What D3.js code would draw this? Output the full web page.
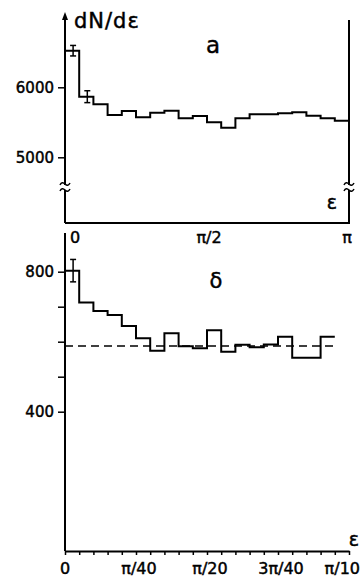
<!DOCTYPE html>
<html>
<head>
<meta charset="utf-8">
<script src="https://cdn.jsdelivr.net/npm/d3@7"></script>
<style>
  body { margin: 0; background: #fff; }
  text { font-family: "DejaVu Sans", sans-serif; fill: #000; stroke: #000; stroke-width: 0.45px; }
</style>
</head>
<body>
<div id="root"></div>
<script>
// panel a: 20 bins of width pi/20 over [0, pi]
var topValues = [6523, 5866, 5757, 5604, 5661, 5571, 5637, 5666, 5557, 5590,
                 5500, 5423, 5557, 5614, 5614, 5629, 5643, 5594, 5557, 5523];
var topErrors = [75, 85];            // error bars on the first two bins
var topYTicks = [5000, 6000];
var topXTicks = [0, Math.PI / 2, Math.PI];
var topXLabels = ['0', 'π/2', 'π'];

// panel b: 19 bins of width pi/200
var bottomValues = [803, 712, 688, 676, 645, 610, 574, 624, 587, 581,
                    633, 571, 591, 584, 592, 614, 554, 554, 614];
var bottomErrors = [32];
var bottomLevel = 588;               // dashed reference level
var bottomYTicks = [400, 500, 600, 700, 800];
var bottomYLabels = ['400', '', '', '', '800'];
var bottomXLabels = ['0', 'π/40', 'π/20', '3π/40', 'π/10'];

var W = 361, H = 581;
var svg = d3.select('#root')
  .append('svg')
    .attr('width', W)
    .attr('height', H);

svg.append('rect').attr('width', W).attr('height', H).attr('fill', '#fff');

var left = 65, right = 349;

// ---------- panel a ----------
var xTop = d3.scaleLinear().domain([0, Math.PI]).range([left, right]);
var yTop = d3.scaleLinear().domain([5000, 6000]).range([157.3, 87.3]);
var topBase = 223, topBreak = 187;

var gTop = svg.append('g');

// frame: left axis with arrow, bottom line, right line
gTop.append('line')
  .attr('x1', left).attr('x2', left)
  .attr('y1', 18).attr('y2', topBase)
  .attr('stroke', '#000').attr('stroke-width', 2);
gTop.append('path')
  .attr('d', 'M' + left + ',12 l-3,8 l6,0 z')
  .attr('fill', '#000');
gTop.append('line')
  .attr('x1', left).attr('x2', right + 1)
  .attr('y1', topBase).attr('y2', topBase)
  .attr('stroke', '#000').attr('stroke-width', 2);
gTop.append('line')
  .attr('x1', right).attr('x2', right)
  .attr('y1', 20).attr('y2', topBase)
  .attr('stroke', '#000').attr('stroke-width', 2);

// axis break marks
[left, right].forEach(x => {
  gTop.append('rect')
    .attr('x', x - 2).attr('y', topBreak - 2)
    .attr('width', 4).attr('height', 5)
    .attr('fill', '#fff');
  [-3, 3].forEach(dy => {
    gTop.append('path')
      .attr('d', 'M' + (x - 5) + ',' + (topBreak + dy + 1) +
                 ' q2,-4 5,-1 t5,-1')
      .attr('fill', 'none')
      .attr('stroke', '#000')
      .attr('stroke-width', 1.5);
  });
});

var yAxisTop = d3.axisLeft(yTop)
  .tickValues(topYTicks)
  .tickSize(7)
  .tickPadding(4)
  .tickFormat(d3.format('d'));
gTop.append('g')
  .attr('transform', 'translate(' + left + ',0)')
  .call(yAxisTop)
  .call(g => g.select('.domain').remove())
  .call(g => g.selectAll('line').attr('stroke', '#000').attr('stroke-width', 1.5))
  .call(g => g.selectAll('text')
    .attr('font-size', 15)
    .attr('font-family', '"DejaVu Sans", sans-serif')
    .attr('fill', '#000'));

// histogram
var topPts = topValues.map((v, i) => [xTop(i * Math.PI / 20), yTop(v)]);
topPts.push([xTop(Math.PI), yTop(topValues[topValues.length - 1])]);
gTop.append('path')
  .attr('d', d3.line().curve(d3.curveStepAfter)(topPts))
  .attr('fill', 'none')
  .attr('stroke', '#000')
  .attr('stroke-width', 2);

topErrors.forEach((e, i) => {
  var cx = xTop((i + 0.5) * Math.PI / 20) + 1;
  var v = topValues[i];
  gTop.append('line')
    .attr('x1', cx).attr('x2', cx)
    .attr('y1', yTop(v + e)).attr('y2', yTop(v - e))
    .attr('stroke', '#000').attr('stroke-width', 1.5);
  [v + e, v - e].forEach(y => {
    gTop.append('line')
      .attr('x1', cx - 3).attr('x2', cx + 3)
      .attr('y1', yTop(y)).attr('y2', yTop(y))
      .attr('stroke', '#000').attr('stroke-width', 1.5);
  });
});

// top x labels
var topAnchors = ['start', 'middle', 'end'];
var topDx = [5, 2, 3];
topXTicks.forEach((t, i) => {
  svg.append('text')
    .attr('x', xTop(t) + topDx[i])
    .attr('y', 243)
    .attr('text-anchor', topAnchors[i])
    .attr('font-size', 16)
    .text(topXLabels[i]);
});

svg.append('text')
  .attr('x', 74).attr('y', 28)
  .attr('font-size', 21)
  .attr('letter-spacing', 1)
  .text('dN/dε');
svg.append('text')
  .attr('x', 213).attr('y', 53)
  .attr('text-anchor', 'middle')
  .attr('font-size', 23)
  .text('a');
svg.append('text')
  .attr('x', 332).attr('y', 209)
  .attr('text-anchor', 'middle')
  .attr('font-size', 19)
  .text('ε');

// ---------- panel b ----------
var xBot = d3.scaleLinear().domain([0, Math.PI / 10]).range([left, right]);
var yBot = d3.scaleLinear().domain([400, 800]).range([411.7, 271.7]);
var botBase = 551;

var gBot = svg.append('g');

gBot.append('line')
  .attr('x1', left).attr('x2', left)
  .attr('y1', 233).attr('y2', botBase)
  .attr('stroke', '#000').attr('stroke-width', 2);

var yAxisBot = d3.axisLeft(yBot)
  .tickValues(bottomYTicks)
  .tickSize(7)
  .tickPadding(4)
  .tickFormat((d, i) => bottomYLabels[i]);
gBot.append('g')
  .attr('transform', 'translate(' + left + ',0)')
  .call(yAxisBot)
  .call(g => g.select('.domain').remove())
  .call(g => g.selectAll('line').attr('stroke', '#000').attr('stroke-width', 1.5))
  .call(g => g.selectAll('text')
    .attr('font-size', 15)
    .attr('font-family', '"DejaVu Sans", sans-serif')
    .attr('fill', '#000'));

var xTickVals = d3.range(21).map(i => i * Math.PI / 200);
var xAxisBot = d3.axisBottom(xBot)
  .tickValues(xTickVals)
  .tickSize(4)
  .tickSizeOuter(0)
  .tickFormat('');
gBot.append('g')
  .attr('transform', 'translate(0,' + botBase + ')')
  .call(xAxisBot)
  .call(g => g.select('.domain').attr('stroke', '#000').attr('stroke-width', 2))
  .call(g => g.selectAll('line').attr('stroke', '#000').attr('stroke-width', 1.5));

bottomXLabels.forEach((lab, i) => {
  var last = i === bottomXLabels.length - 1;
  svg.append('text')
    .attr('x', last ? W - 1 : xBot(i * Math.PI / 40) + (i === 0 ? 0 : 3))
    .attr('y', 574)
    .attr('text-anchor', last ? 'end' : 'middle')
    .attr('font-size', 16)
    .text(lab);
});

// dashed reference level
gBot.append('line')
  .attr('x1', left).attr('x2', xBot(bottomValues.length * Math.PI / 200))
  .attr('y1', yBot(bottomLevel)).attr('y2', yBot(bottomLevel))
  .attr('stroke', '#000')
  .attr('stroke-width', 1.5)
  .attr('stroke-dasharray', '8,5');

var botPts = bottomValues.map((v, i) => [xBot(i * Math.PI / 200), yBot(v)]);
botPts.push([xBot(bottomValues.length * Math.PI / 200),
             yBot(bottomValues[bottomValues.length - 1])]);
gBot.append('path')
  .attr('d', d3.line().curve(d3.curveStepAfter)(botPts))
  .attr('fill', 'none')
  .attr('stroke', '#000')
  .attr('stroke-width', 2);

bottomErrors.forEach((e, i) => {
  var cx = xBot((i + 0.5) * Math.PI / 200) + 1;
  var v = bottomValues[i];
  gBot.append('line')
    .attr('x1', cx).attr('x2', cx)
    .attr('y1', yBot(v + e)).attr('y2', yBot(v - e))
    .attr('stroke', '#000').attr('stroke-width', 1.5);
  [v + e, v - e].forEach(y => {
    gBot.append('line')
      .attr('x1', cx - 3).attr('x2', cx + 3)
      .attr('y1', yBot(y)).attr('y2', yBot(y))
      .attr('stroke', '#000').attr('stroke-width', 1.5);
  });
});

svg.append('text')
  .attr('x', 216).attr('y', 288)
  .attr('text-anchor', 'middle')
  .attr('font-size', 21)
  .text('δ');
svg.append('text')
  .attr('x', 354).attr('y', 546)
  .attr('text-anchor', 'middle')
  .attr('font-size', 19)
  .text('ε');
</script>
</body>
</html>
